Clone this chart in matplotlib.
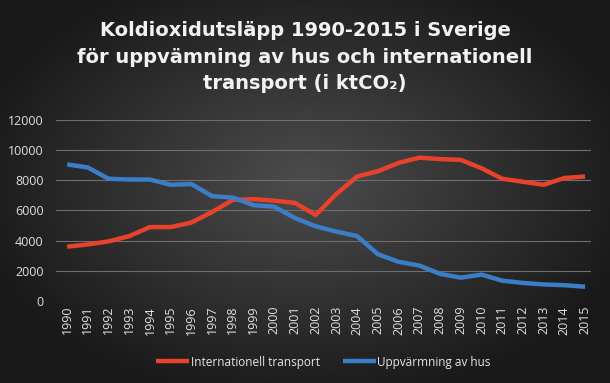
import matplotlib
matplotlib.use("Agg")
import matplotlib.pyplot as plt
import numpy as np

years = list(range(1990, 2016))
transport = [3600, 3750, 3950, 4300, 4900, 4900, 5200, 5900, 6700, 6750,
             6650, 6500, 5700, 7100, 8250, 8600, 9150, 9500, 9400, 9350,
             8800, 8100, 7900, 7700, 8150, 8250]
heating = [9050, 8850, 8100, 8050, 8050, 7700, 7750, 6950, 6850, 6350,
           6250, 5500, 4950, 4600, 4300, 3100, 2600, 2350, 1800, 1550,
           1750, 1350, 1200, 1100, 1050, 950]
yticks = list(range(0, 12001, 2000))

fig = plt.figure(figsize=(6.10, 3.83), dpi=100)

# radial dark gradient background
bg = fig.add_axes([0, 0, 1, 1], zorder=-10)
gx, gy = np.meshgrid(np.linspace(-1, 1, 610), np.linspace(-1, 1, 383))
r = np.sqrt((gx / 1.05) ** 2 + ((gy + 0.05) / 1.1) ** 2)
shade = np.clip(0.30 - 0.19 * r, 0.10, 0.30)
bg.imshow(np.dstack([shade, shade, shade]), aspect="auto", extent=[0, 1, 0, 1])
bg.axis("off")

ax = fig.add_axes([0.092, 0.214, 0.877, 0.473])
ax.patch.set_alpha(0)
ax.plot(years, transport, color="#e8412c", lw=3.2, solid_capstyle="butt",
        label="Internationell transport")
ax.plot(years, heating, color="#3b7dc6", lw=3.2, solid_capstyle="butt",
        label="Uppvärmning av hus")

ax.set_ylim(0, 12000)
ax.set_xlim(1989.47, 2015.29)
ax.set_yticks(yticks)
ax.set_xticks(years)
ax.set_xticklabels([str(y) for y in years], rotation=90)
ax.grid(axis="y", color="#6e6e6e", lw=0.8)
ax.set_axisbelow(True)
for s in ax.spines.values():
    s.set_visible(False)
ax.tick_params(length=0, colors="#e0e0e0", labelsize=9)
ax.tick_params(axis="y", pad=9)
for lab in ax.get_xticklabels() + ax.get_yticklabels():
    lab.set_family(["Open Sans", "DejaVu Sans"])

leg = ax.legend(loc="center", bbox_to_anchor=(0.5, -0.337), ncol=2,
                frameon=False, handlelength=2.8, handletextpad=0.1,
                columnspacing=2.0, labelcolor="#e6e6e6",
                prop={"family": ["Open Sans", "DejaVu Sans"], "size": 8.5})

fig.text(0.5, 0.945,
         "Koldioxidutsläpp 1990-2015 i Sverige\nför uppvämning av hus och internationell\ntransport (i ktCO₂)",
         ha="center", va="top", color="#f2f2f2", fontsize=14, fontweight="bold",
         family="DejaVu Sans", linespacing=1.5)

fig.savefig("out.png", dpi=100)
